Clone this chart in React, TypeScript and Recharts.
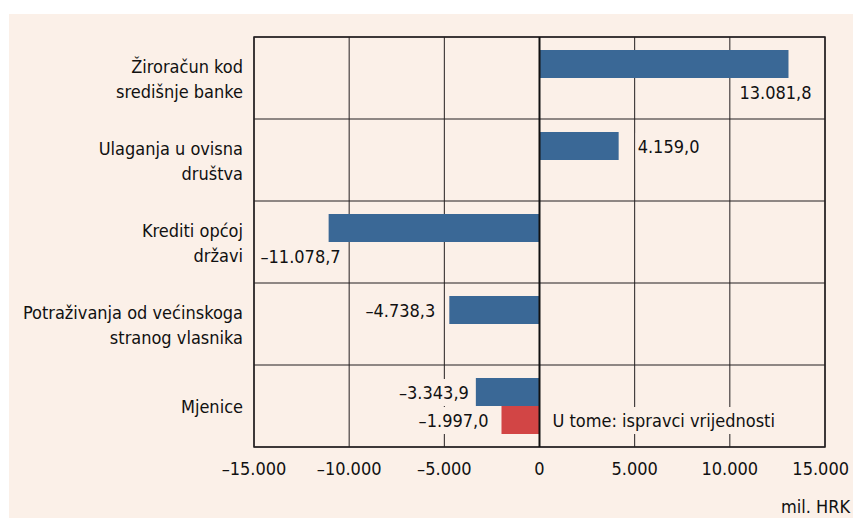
import React from "react"
import {
  Bar,
  BarChart,
  CartesianGrid,
  LabelList,
  ReferenceArea,
  ReferenceLine,
  XAxis,
  YAxis,
} from "recharts"

const categories = [
  "Žiroračun kod\nsredišnje banke",
  "Ulaganja u ovisna\ndruštva",
  "Krediti općoj\ndržavi",
  "Potraživanja od većinskoga\nstranog vlasnika",
  "Mjenice",
]
const values = [13081.8, 4159.0, -11078.7, -4738.3, -3343.9]
const adjustments: (number | null)[] = [null, null, null, null, -1997.0]
const xTicks = [-15000, -10000, -5000, 0, 5000, 10000, 15000]
const adjustmentText = "U tome: ispravci vrijednosti"
const unitText = "mil. HRK"

const data = categories.map((name, i) => ({ name, value: values[i], adj: adjustments[i] }))

// where each blue value label sits relative to its bar
const labelPlacement = [
  { mode: "belowEnd", dx: 23 },
  { mode: "right", dx: 19 },
  { mode: "belowStart", dx: 12 },
  { mode: "left", dx: -14 },
  { mode: "left", dx: -7 },
]

const BG = "#fbf0e8"
const BLUE = "#3a6896"
const RED = "#d24545"
const INK = "#231f20"
const FONT = "'Liberation Sans Narrow', 'DejaVu Sans Condensed', 'Roboto', sans-serif"
const FS = 18
const CHAR_W = 9

const fmtNum = (v: number, digits: number) => {
  const s = Math.abs(v).toLocaleString("de-DE", {
    minimumFractionDigits: digits,
    maximumFractionDigits: digits,
  })
  return v < 0 ? "–" + s : s
}

function boxedText(x: number, baseline: number, text: string, anchor: "start" | "end", key?: string) {
  const w = text.length * CHAR_W
  const left = anchor === "start" ? x - 2 : x - w - 2
  return (
    <g key={key}>
      <rect x={left} y={baseline - 20} width={w + 4} height={27} fill={BG} />
      <text x={x} y={baseline} textAnchor={anchor} fill="#111" fontSize={FS} fontFamily={FONT}>
        {text}
      </text>
    </g>
  )
}

const ValueLabel = (props: any) => {
  const { x, y, width, height, value, index } = props
  if (value == null) return null
  const left = Math.min(x, x + width)
  const right = Math.max(x, x + width)
  const top = Math.min(y, y + height)
  const bottom = Math.max(y, y + height)
  const mid = (top + bottom) / 2
  const p = labelPlacement[index]
  const text = fmtNum(value, 1)
  if (p.mode === "belowEnd") return boxedText(right + p.dx, bottom + 21, text, "end")
  if (p.mode === "belowStart") return boxedText(left + p.dx, bottom + 21, text, "end")
  if (p.mode === "right") return boxedText(right + p.dx, mid + 7, text, "start")
  return boxedText(left + p.dx, mid + 7, text, "end")
}

const AdjLabel = (props: any) => {
  const { x, y, width, height, value } = props
  if (value == null) return null
  const left = Math.min(x, x + width)
  const zero = Math.max(x, x + width)
  const mid = y + height / 2
  return (
    <g>
      {boxedText(left - 13, mid + 7, fmtNum(value, 1), "end", "v")}
      {boxedText(zero + 13, mid + 7, adjustmentText, "start", "t")}
    </g>
  )
}

const CategoryTick = (props: any) => {
  const { x, y, payload } = props
  const lines: string[] = String(payload.value).split("\n")
  const start = y + 7 - ((lines.length - 1) * 25) / 2
  return (
    <text x={x - 11} y={start} textAnchor="end" fill="#111" fontSize={FS} fontFamily={FONT}>
      {lines.map((l, i) => (
        <tspan key={i} x={x - 11} y={start + i * 25}>
          {l}
        </tspan>
      ))}
    </text>
  )
}

const ValueTick = (props: any) => {
  const { x, y, payload, index } = props
  const last = index === xTicks.length - 1
  return (
    <text
      x={last ? x + 24 : x}
      y={y + 28}
      textAnchor={last ? "end" : "middle"}
      fill="#111"
      fontSize={FS}
      fontFamily={FONT}
    >
      {fmtNum(payload.value, 0)}
    </text>
  )
}

export default function App() {
  return (
    <div style={{ position: "absolute", left: 0, top: 0, width: 853, height: 518, background: "#fff" }}>
      <div style={{ position: "absolute", left: 9, top: 14, width: 844, height: 504, background: BG }}>
        <BarChart
          width={844}
          height={504}
          data={data}
          layout="vertical"
          margin={{ top: 23, right: 28, bottom: 41, left: 0 }}
          barSize={28}
          barGap={0}
        >
          <CartesianGrid
            stroke={INK}
            strokeWidth={1}
            horizontalCoordinatesGenerator={({ offset }: any) =>
              Array.from(
                { length: categories.length + 1 },
                (_, i) => offset.top + (i * offset.height) / categories.length
              )
            }
          />
          <XAxis
            type="number"
            domain={[-15000, 15000]}
            ticks={xTicks}
            axisLine={false}
            tickLine={false}
            tickSize={0}
            tickMargin={0}
            height={30}
            tick={<ValueTick />}
            interval={0}
          />
          <YAxis
            type="category"
            dataKey="name"
            width={245}
            axisLine={false}
            tickLine={false}
            tickSize={0}
            tickMargin={0}
            tick={<CategoryTick />}
            interval={0}
          />
          <ReferenceArea x1={-15000} x2={15000} fill="none" stroke={INK} strokeWidth={1.5} ifOverflow="visible" />
          <Bar dataKey="value" fill={BLUE} isAnimationActive={false}>
            <LabelList dataKey="value" content={<ValueLabel />} />
          </Bar>
          <Bar dataKey="adj" fill={RED} isAnimationActive={false}>
            <LabelList dataKey="adj" content={<AdjLabel />} />
          </Bar>
          <ReferenceLine x={0} stroke="#111" strokeWidth={2} ifOverflow="visible" />
        </BarChart>
        <div
          style={{
            position: "absolute",
            right: 3,
            top: 482,
            fontFamily: FONT,
            fontSize: FS,
            lineHeight: "22px",
            color: "#111",
          }}
        >
          {unitText}
        </div>
      </div>
    </div>
  )
}
